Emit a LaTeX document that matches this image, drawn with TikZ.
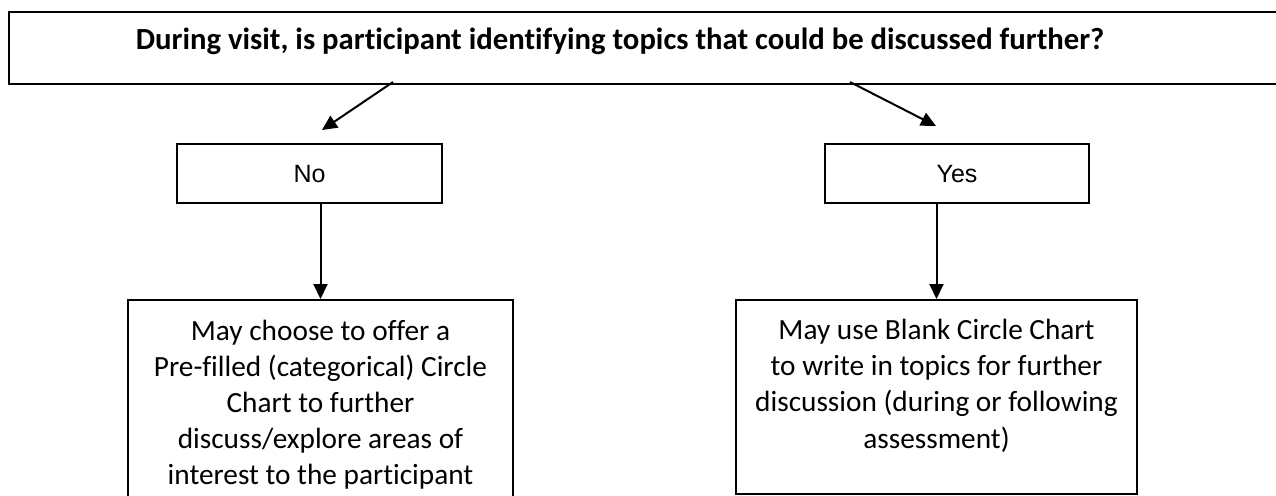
\documentclass[tikz,border=0pt]{standalone}
\usepackage{fontspec}
\setmainfont[Ligatures={NoCommon}]{Carlito}
\newfontfamily\arialfont{Liberation Sans}
\usetikzlibrary{arrows.meta}
\tikzset{
  box/.style={draw=black, line width=2pt, fill=white, inner sep=0pt},
  boxtext/.style={align=center, font=\fontsize{29.3}{36.2}\selectfont, inner sep=0pt},
  arr/.style={line width=2pt, -{Triangle[length=15pt,width=14pt]}},
  yn/.style={inner sep=0pt, font=\arialfont\fontsize{25}{28}\selectfont},
}
\begin{document}
\begin{tikzpicture}[x=1pt,y=-1pt]
\useasboundingbox (0,0) rectangle (1276,495);
\clip (0,0) rectangle (1276,495);
\fill[white] (0,0) rectangle (1276,495);
% top question box
\node[box, anchor=north west, minimum width=1300pt, minimum height=72pt] (q) at (8,11) {};
\node[inner sep=0pt, anchor=base, font=\fontsize{30.7}{34}\selectfont\bfseries] (qt) at (620,50) {During visit, is participant identifying topics that could be discussed further?};
% No / Yes
\node[box, minimum width=265pt, minimum height=59pt] (no) at (309.5,173.5) {};
\node[yn, anchor=base] (not) at (309.5,182) {No};
\node[box, minimum width=264pt, minimum height=59pt] (yes) at (957,173.5) {};
\node[yn, anchor=base] (yest) at (957,182) {Yes};
% lower boxes
\node[box, anchor=north, minimum width=385pt, minimum height=220pt] (a) at (320.5,299) {};
\node[boxtext, anchor=north] (at) at (320.5,319.5) {May choose to offer a\\Pre-filled (categorical) Circle\\Chart to further\\discuss/explore areas of\\interest to the participant};
\node[box, anchor=north, minimum width=401pt, minimum height=194pt] (b) at (936.5,299) {};
\node[boxtext, anchor=north] (bt) at (936.5,319) {May use Blank Circle Chart\\to write in topics for further\\discussion (during or following\\assessment)};
% connectors
\coordinate (qL) at (393,82);
\coordinate (tipL) at (322,130);
\coordinate (qR) at (850,82);
\coordinate (tipR) at (936,126);
\draw[arr] (qL) -- (tipL);
\draw[arr] (qR) -- (tipR);
\draw[arr] (no.south -| a.north) -- (a.north);
\draw[arr] (yes.south -| b.north) -- (b.north);
\end{tikzpicture}
\end{document}
